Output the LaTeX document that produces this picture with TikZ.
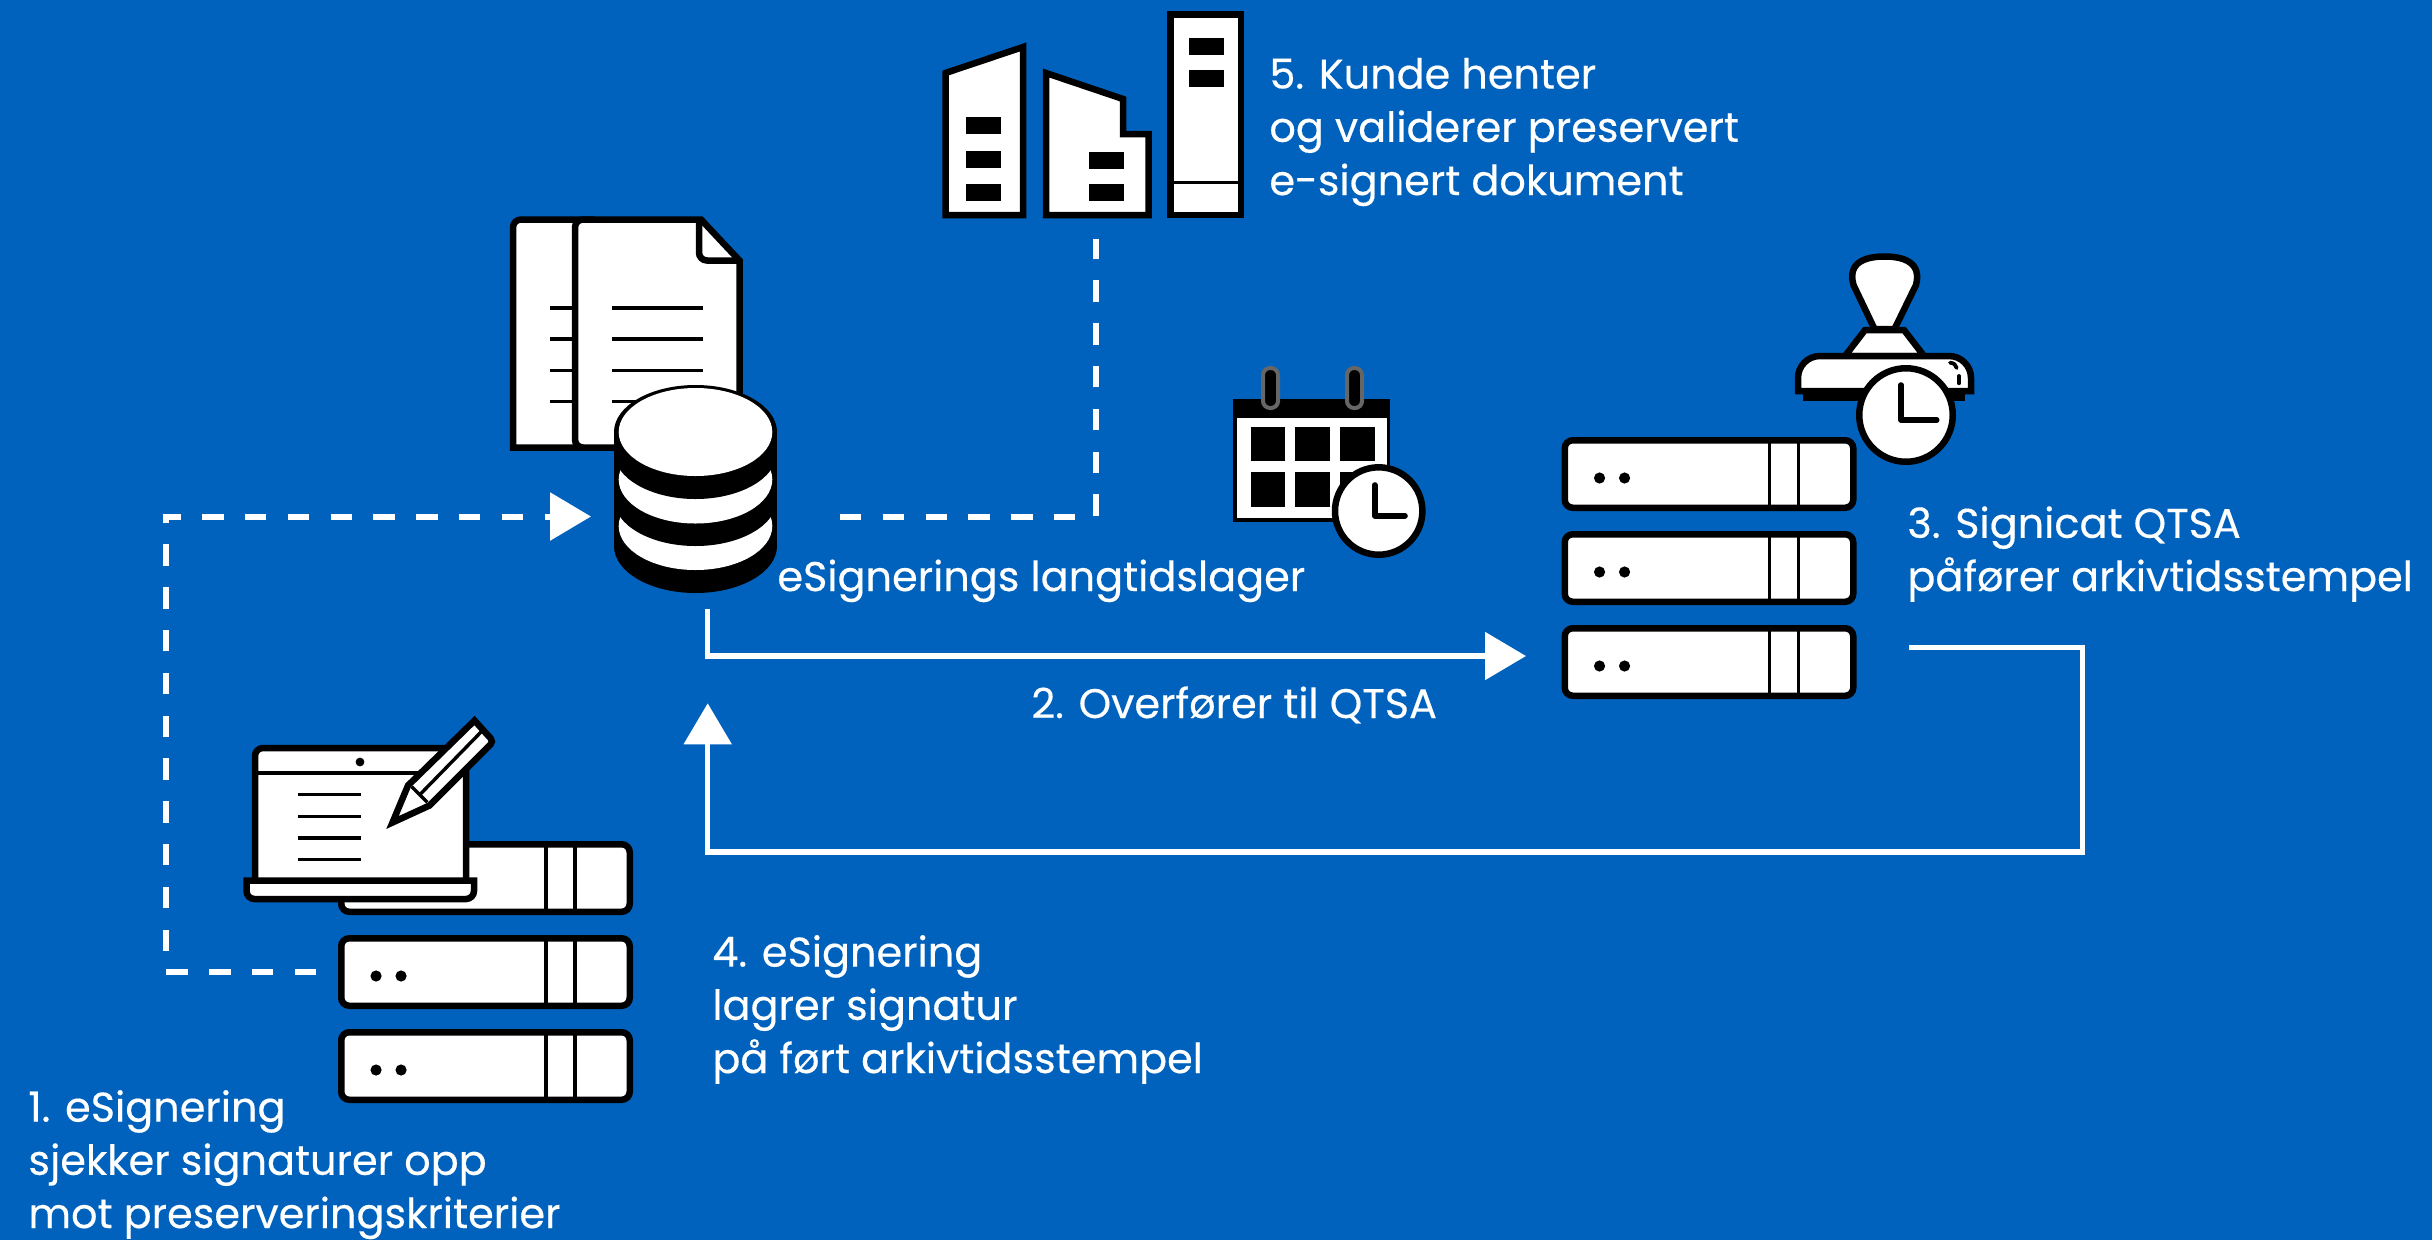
\documentclass[tikz,border=0pt]{standalone}
\usepackage{fontspec}
\usetikzlibrary{positioning,arrows.meta}
\newfontfamily\labelfont{Poppins}[FakeBold=0.35]
\definecolor{bgblue}{HTML}{0062BC}
\definecolor{ringgray}{HTML}{666666}

\begin{document}
\begin{tikzpicture}[
				x=0.5pt,
				y=-0.5pt,
				node distance = 47pt,
				server/.style={
					rectangle,
					draw=black,
					fill=white,
					line width=3.25pt,
					rounded corners=4pt,
					minimum width=144.25pt,
					minimum height=33.75pt,
					inner sep=0pt,
					outer sep=0pt
					},
				clockface/.style={
					circle,
					draw=black,
					fill=white,
					line width=3.25pt,
					inner sep=0pt,
					outer sep=0pt
					},
				caption/.style={
					text=white,
					anchor=base west,
					align=left,
					inner sep=0pt,
					font=\labelfont\fontsize{20.7pt}{26.6pt}\selectfont
					},
				icon/.style={
					draw=black,
					fill=white,
					line width=3.25pt,
					line join=miter
					},
				thinline/.style={
					draw=black,
					line width=1.7pt
					},
				hands/.style={
					draw=black,
					line width=2.8pt,
					line cap=round,
					line join=round
					},
				line/.style={
					draw=white,
					line width=2.7pt,
					-{Triangle[length=20.5pt,width=23.5pt]}
					},
				plainline/.style={
					draw=white,
					line width=2.7pt
					},
				dashline/.style={
					draw=white,
					line width=3pt,
					dash pattern=on 10.7pt off 10.7pt
					}]
			    \useasboundingbox (0,0) rectangle (2432,1239);
			    \fill [bgblue] (-5,-5) rectangle (2437,1244);

			    % Place servers
			    \node [server] (esign1) at (485.5,878) {};
			    \node [server, below of=esign1] (esign2) {};
			    \node [server, below of=esign2] (esign3) {};
			    \node [server] (qtsa1) at (1709,474) {};
			    \node [server, below of=qtsa1] (qtsa2) {};
			    \node [server, below of=qtsa2] (qtsa3) {};
			    \foreach \srv in {esign1,esign2,esign3,qtsa1,qtsa2,qtsa3} {
			    	\draw [thinline] ([xshift=102.4pt]\srv.south west) -- ([xshift=102.4pt]\srv.north west);
			    	\draw [thinline] ([xshift=116.9pt]\srv.south west) -- ([xshift=116.9pt]\srv.north west);
			    	\fill [black] ([xshift=17.4pt,yshift=-2pt]\srv.west) circle (2.8pt);
			    	\fill [black] ([xshift=29.9pt,yshift=-2pt]\srv.west) circle (2.8pt);
			    }

			    % Laptop with pencil
			    \draw [icon] (255,880) [rounded corners=4pt] -- (255,748) -- (466,748) [sharp corners] -- (466,880);
			    \draw [thinline] (257,773) -- (464,773);
			    \fill [black] (360,762) circle (2.2pt);
			    \foreach \y in {794.7,816.3,838,859.7}
			    	\draw [thinline] (297.7,\y) -- (360.7,\y);
			    \draw [icon] (246.5,880.5) [rounded corners=4pt] -- (246.5,899) -- (474,899) [sharp corners] -- (474,880.5) -- cycle;
			    \draw [icon] (392.5,822.5) -- (408,785.5) -- (474.5,720.5) [rounded corners=2pt] -- (493.5,741.5) [sharp corners] -- (429.5,805.5) -- cycle;
			    \draw [thinline] (411.7,786.7) -- (427.3,802.3);
			    \draw [thinline] (419.5,795) -- (481.5,731.5);

			    % Documents
			    \draw [icon] (513,447.5) [rounded corners=4pt] -- (513,219.5) -- (600,219.5) [sharp corners] -- (600,447.5) -- cycle;
			    \draw [icon] (575,447.5) [rounded corners=4pt] -- (575,219.5) [sharp corners] -- (701,219.5) -- (739.5,260.5) -- (739.5,447.5) [rounded corners=4pt] -- cycle;
			    \draw [icon, fill=none] (699,219.5) [rounded corners=4pt] -- (699,260.5) [sharp corners] -- (739.5,260.5);
			    \foreach \y in {308,339,370.5,401.5} {
			    	\draw [thinline] (550,\y) -- (572,\y);
			    	\draw [thinline] (612,\y) -- (703,\y);
			    }

			    % Database stack
			    \fill [black] (614,432) rectangle (777,546);
			    \fill [black] (695.5,546) ellipse [x radius=81.5, y radius=47];
			    \fill [white] (695.5,526) ellipse [x radius=76.8, y radius=44];
			    \fill [black] (614,432) rectangle (777,499);
			    \fill [black] (695.5,499) ellipse [x radius=81.5, y radius=47];
			    \fill [white] (695.5,479.5) ellipse [x radius=76.8, y radius=44];
			    \fill [black] (614,432) rectangle (777,452);
			    \fill [black] (695.5,452) ellipse [x radius=81.5, y radius=47];
			    \fill [black] (695.5,432) ellipse [x radius=81.5, y radius=47];
			    \fill [white] (695.5,432) ellipse [x radius=76.8, y radius=44];

			    % Buildings
			    \draw [icon] (945.5,215) -- (945.5,73) -- (1023,47) -- (1023,215) -- cycle;
			    \draw [icon] (1046,215) -- (1046,73) -- (1123,99) -- (1123,134) -- (1148.7,134) -- (1148.7,215) -- cycle;
			    \draw [icon] (1170.5,215) rectangle (1240.8,14.3);
			    \draw [thinline] (1172,182.7) -- (1239,182.7);
			    \fill [black] (966,116.7) rectangle (1001,133.7);
			    \fill [black] (966,150.5) rectangle (1001,168);
			    \fill [black] (966,183.7) rectangle (1001,200.7);
			    \fill [black] (1089,152) rectangle (1124,168.7);
			    \fill [black] (1089,184) rectangle (1124,200.7);
			    \fill [black] (1189,38) rectangle (1224.3,55);
			    \fill [black] (1189,70) rectangle (1224.3,87);

			    % Calendar
			    \fill [black] (1233,399) rectangle (1390,521.7);
			    \fill [white] (1236.7,417.5) rectangle (1386.7,518);
			    \foreach \cellx in {1250.7,1295,1340} {
			    	\fill [black] (\cellx,427) rectangle ++(34.7,34);
			    	\fill [black] (\cellx,472) rectangle ++(34.7,34.7);
			    }
			    \foreach \ringx in {1263,1347}
			    	\draw [ringgray, fill=black, line width=2pt, rounded corners=3.5pt] (\ringx,368) rectangle ++(15,40);
			    \node [clockface, minimum size=43.7pt] (calclock) at (1378.7,511) {};
			    \draw [hands] ([shift={(-4,-26)}]calclock.center) -- ([shift={(-4,4.7)}]calclock.center) -- ([shift={(26.3,4.7)}]calclock.center);

			    % Stamp
			    \fill [black] (1803,385) rectangle (1965,400.7);
			    \draw [icon] (1874.5,329) -- (1853.5,285) .. controls (1847,262) and (1866,256.5) .. (1884.5,256.5) .. controls (1903,256.5) and (1922,262) .. (1916,285) -- (1894.5,329) -- cycle;
			    \draw [icon] (1865,330) -- (1904,330) -- (1924,356) -- (1845,356) -- cycle;
			    \draw [icon] (1798,391) [rounded corners=11pt] -- (1798,356) -- (1971,356) [sharp corners] -- (1971,391) -- cycle;
			    \draw [hands, line width=1.9pt] (1950,362.7) .. controls (1954,363) and (1956,365) .. (1956.7,368);
			    \draw [hands, line width=1.9pt] (1959,376) -- (1959,383.3);
			    \node [clockface, minimum size=46.75pt] (stampclock) at (1906,415) {};
			    \draw [hands] ([shift={(-5,-30)}]stampclock.center) -- ([shift={(-5,5)}]stampclock.center) -- ([shift={(30.7,5)}]stampclock.center);

			    % Place labels
			    \node [caption] (archive) at (777,591) {eSignerings langtidslager};
			    \node [caption] (custlabel) at (1269,195) {5. Kunde henter\\og validerer preservert\\e-signert dokument};
			    \node [caption] (stamplabel) at (1907,591) {3. Signicat QTSA\\påfører arkivtidsstempel};
			    \node [caption] (movelabel) at (1031,718) {2. Overfører til QTSA};
			    \node [caption] (storelabel) at (712,1073) {4. eSignering\\lagrer signatur\\på ført arkivtidsstempel};
			    \node [caption] (checklabel) at (28,1228) {1. eSignering\\sjekker signaturer opp\\mot preserveringskriterier};

			    % Free ends of connectors
			    \coordinate (dbin) at (591,516.5);
			    \coordinate (dbout) at (840,516.5);
			    \coordinate (leftrun) at (166,700);
			    \coordinate (custend) at (1096,239);
			    \coordinate (dbdown) at (707.7,608.7);
			    \coordinate (qtsain) at (1526,656);
			    \coordinate (qtsaout) at (1909,647.7);
			    \coordinate (rightrun) at (2082.3,750);
			    \coordinate (dbup) at (707.7,703.3);
			    \coordinate (lowrun) at (1400,852);

			    % Draw edges
			    \path [dashline, -{Triangle[length=20.5pt,width=23.5pt]}, shorten <=12.5pt] (esign2.west) -| (leftrun) |- (dbin);
			    \path [dashline] (dbout) -| (custend);
			    \path [line] (dbdown) |- (qtsain);
			    \path [plainline] (qtsaout) -| (rightrun);
			    \path [plainline] (rightrun) |- (lowrun);
			    \path [line] (lowrun) -| (dbup);
			\end{tikzpicture}
\end{document}
